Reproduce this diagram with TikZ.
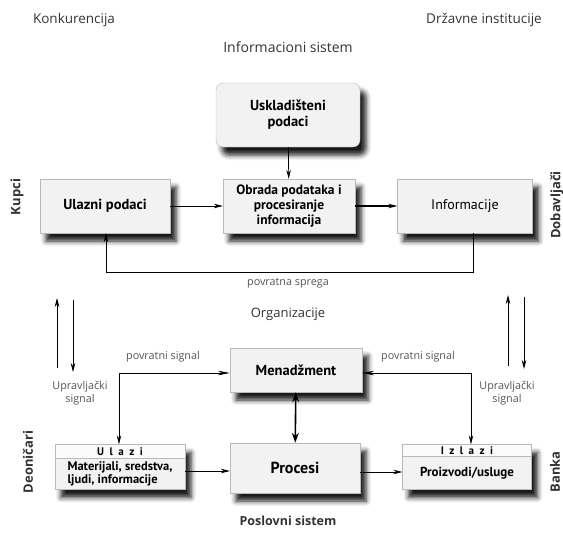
\documentclass[tikz,border=0pt]{standalone}
\usepackage{fontspec}
\setmainfont{Open Sans}
\newfontfamily\boxfont{PT Sans}
\usetikzlibrary{arrows.meta,shadows.blur}

\definecolor{labelgray}{HTML}{333333}
\definecolor{notegray}{HTML}{555555}

\tikzset{
	box/.style={draw=gray!55, fill=gray!10, align=center, text=black,
		font=\boxfont\bfseries\fontsize{14.5}{16}\selectfont,
		blur shadow={shadow xshift=6pt, shadow yshift=-8pt, shadow blur radius=5pt, shadow opacity=90}},
	headbox/.style={draw=gray!55, fill=gray!3, inner sep=0pt, anchor=north,
		font=\boxfont\bfseries\fontsize{11}{12}\selectfont},
	area/.style={text=labelgray, font=\fontsize{13.5}{15}\selectfont},
	side/.style={rotate=90, text=labelgray, font=\bfseries\fontsize{13}{15}\selectfont},
	note/.style={text=notegray, font=\fontsize{10.8}{12.5}\selectfont, align=center},
	flow/.style={-{Stealth[length=9pt,width=4.5pt,inset=3pt]}, line width=0.7pt},
}

\begin{document}
\begin{tikzpicture}[x=1pt, y=-1pt]
		\useasboundingbox (0,0) rectangle (563,533);

		% okruzenje
		\node[area] (konk) at (74,20) {Konkurencija};
		\node[area] (drz) at (484,20) {Državne institucije};
		\node[area, font=\fontsize{14}{16}\selectfont] (is) at (288,47) {Informacioni sistem};
		\node[area, font=\fontsize{13}{15}\selectfont] (org) at (288,314) {Organizacije};
		\node[area, font=\bfseries\fontsize{12.5}{14}\selectfont] (ps) at (288,521) {Poslovni sistem};
		\node[side] (kupci) at (17,197) {Kupci};
		\node[side] (dob) at (557,205) {Dobavljači};
		\node[side] (deon) at (28,462) {Deoničari};
		\node[side] (banka) at (555,472) {Banka};

		% informacioni sistem
		\node[box, rounded corners=7pt, minimum width=144pt, minimum height=64pt] (usk) at (288,115) {Uskladišteni\\podaci};
		\node[box, minimum width=130pt, minimum height=54pt] (ulp) at (105,206) {Ulazni podaci};
		\node[box, minimum width=132pt, minimum height=54pt, inner sep=2pt, font=\boxfont\bfseries\fontsize{13.5}{15}\selectfont] (obr) at (289,206) {Obrada podataka i\\procesiranje\\informacija};
		\node[box, minimum width=135pt, minimum height=54pt, font=\boxfont\fontsize{14}{16}\selectfont] (inf) at (465,206) {Informacije};

		\path (usk) edge[flow] (obr)
		(ulp) edge[flow] (obr)
		(obr) edge[flow, line width=1.2pt] (inf);

		\coordinate (sprD) at (473,272);
		\coordinate (sprL) at (106,272);
		\draw[flow] (inf.south -| sprD) -- (sprD) -- (sprL) -- (ulp.south -| sprL);
		\node[note] (spr) at (288,283) {povratna sprega};

		% veze sa okruzenjem
		\coordinate (lu1) at (57,368);
		\coordinate (lu2) at (57,298);
		\coordinate (ld1) at (73,300);
		\coordinate (ld2) at (73,372);
		\coordinate (ru1) at (508,366);
		\coordinate (ru2) at (508,295);
		\coordinate (rd1) at (524,297);
		\coordinate (rd2) at (524,369);
		\path (lu1) edge[flow] (lu2)
		(ld1) edge[flow] (ld2)
		(ru1) edge[flow] (ru2)
		(rd1) edge[flow] (rd2);

		% poslovni sistem
		\node[box, minimum width=132pt, minimum height=44pt] (men) at (296,370) {Menadžment};
		\node[box, minimum width=130pt, minimum height=50pt, font=\boxfont\bfseries\fontsize{16}{18}\selectfont] (proc) at (295,468) {Procesi};
		\node[box, minimum width=130pt, minimum height=45pt] (ul) at (120,467) {};
		\node[headbox, minimum width=130pt, minimum height=14pt] (ulh) at (ul.north) {U\,\,\,l\,\,\,a\,\,\,z\,\,\,i};
		\node[font=\boxfont\bfseries\fontsize{12.5}{13.5}\selectfont, align=left] (ult) at ([yshift=-7pt]ul.center) {Materijali, sredstva,\\ljudi, informacije};
		\node[box, minimum width=129pt, minimum height=45pt] (iz) at (467,467) {};
		\node[headbox, minimum width=129pt, minimum height=12pt] (izh) at (iz.north) {I\,\,\,z\,\,\,l\,\,\,a\,\,\,z\,\,\,i};
		\node[font=\boxfont\bfseries\fontsize{13}{15}\selectfont] (izt) at ([yshift=-6pt]iz.center) {Proizvodi/usluge};

		\path (men) edge[flow, line width=1.6pt, {Stealth[length=10pt,width=7pt]}-{Stealth[length=10pt,width=7pt]}] (proc)
		([yshift=-4pt]ul.east) edge[flow] ([yshift=-4pt]ul.east -| proc.west)
		([yshift=-4pt]proc.east) edge[flow] ([yshift=-4pt]proc.east -| iz.west);

		\coordinate (kL) at (119,373);
		\coordinate (kR) at (471,373);
		\draw[flow, {Stealth[length=9pt,width=4.5pt,inset=3pt]}-{Stealth[length=12pt,width=4.5pt,inset=4pt]}] (ulh.north -| kL) -- (kL) -- (men.west |- kL);
		\draw[flow, {Stealth[length=9pt,width=4.5pt,inset=3pt]}-{Stealth[length=12pt,width=4.5pt,inset=4pt]}] (izh.north -| kR) -- (kR) -- (men.east |- kR);
		\node[note] (psL) at (163,357) {povratni signal};
		\node[note] (psR) at (418,357) {povratni signal};
		\node[note] (usL) at (80,393) {Upravljački\\signal};
		\node[note] (usR) at (507,393) {Upravljački\\signal};
	\end{tikzpicture}
\end{document}
